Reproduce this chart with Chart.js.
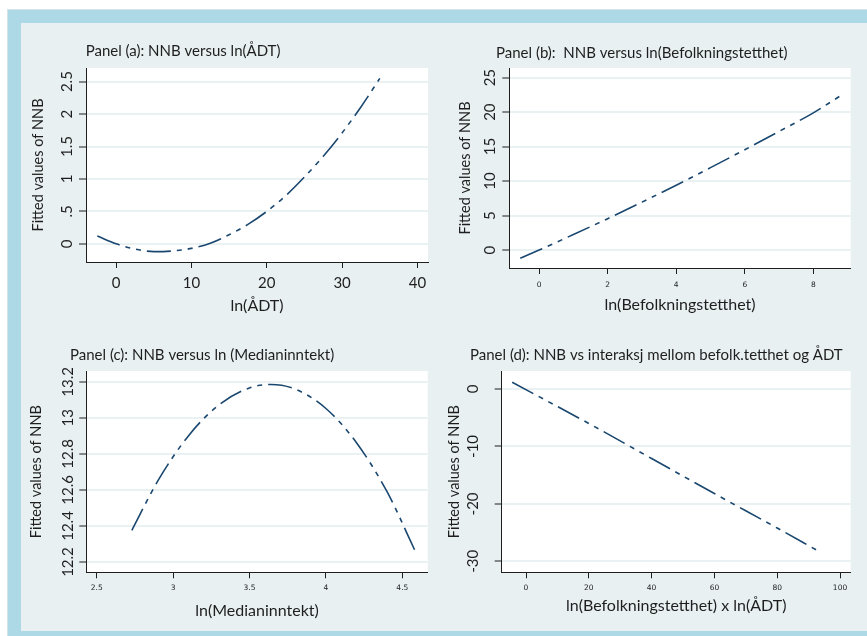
<!DOCTYPE html>
<html>
<head>
<meta charset="utf-8">
<script src="https://cdn.jsdelivr.net/npm/chart.js@4.4.1/dist/chart.umd.min.js"></script>
<style>
  body { margin: 0; background: #fff; width: 867px; height: 636px; overflow: hidden; position: relative; }
  #frame { position: absolute; left: 7px; top: 9px; width: 870px; height: 640px; background: #add8e6; border-left: 1px solid #d3e3e8; border-top: 1px solid #d3e3e8; }
  #inner { position: absolute; left: 21px; top: 23px; width: 846px; height: 608px; background: #e8f0f2; }
  canvas { position: absolute; }
</style>
</head>
<body>
<div id="frame"></div>
<div id="inner"></div>
<canvas id="pa" width="423" height="297" style="left:21px;top:23px"></canvas>
<canvas id="pb" width="423" height="297" style="left:444px;top:23px"></canvas>
<canvas id="pc" width="423" height="311" style="left:21px;top:320px"></canvas>
<canvas id="pd" width="423" height="311" style="left:444px;top:320px"></canvas>
<script>
// Panel (a): NNB versus ln(ÅDT)
const aX = [-2.5, 0, 2.5, 5, 7.5, 10, 12.5, 15, 17.5, 20, 22.5, 25, 27.5, 30, 32.5, 35];
const aY = [0.12, 0.0, -0.08, -0.12, -0.11, -0.07, 0.01, 0.14, 0.30, 0.50, 0.74, 1.03, 1.35, 1.71, 2.11, 2.55];
const aXTicks = [0, 10, 20, 30, 40];
const aXLabels = ['0', '10', '20', '30', '40'];
const aYTicks = [0, 0.5, 1, 1.5, 2, 2.5];
const aYLabels = ['0', '.5', '1', '1.5', '2', '2.5'];

// Panel (b): NNB versus ln(Befolkningstetthet)
const bX = [-0.55, 0, 1, 2, 3, 4, 5, 6, 7, 8, 8.8];
const bY = [-1.2, 0, 2.25, 4.55, 6.95, 9.4, 11.95, 14.55, 17.2, 19.9, 22.4];
const bXTicks = [0, 2, 4, 6, 8];
const bXLabels = ['0', '2', '4', '6', '8'];
const bYTicks = [0, 5, 10, 15, 20, 25];
const bYLabels = ['0', '5', '10', '15', '20', '25'];

// Panel (c): NNB versus ln (Medianinntekt)
const cX = [2.73, 2.9, 3.1, 3.3, 3.5, 3.64, 3.8, 4.0, 4.2, 4.4, 4.59];
const cY = [12.376, 12.65, 12.90, 13.072, 13.166, 13.185, 13.159, 13.052, 12.862, 12.59, 12.25];
const cXTicks = [2.5, 3, 3.5, 4, 4.5];
const cXLabels = ['2.5', '3', '3.5', '4', '4.5'];
const cYTicks = [12.2, 12.4, 12.6, 12.8, 13, 13.2];
const cYLabels = ['12.2', '12.4', '12.6', '12.8', '13', '13.2'];

// Panel (d): NNB vs interaksj mellom befolk.tetthet og ÅDT
const dX = [-4.4, 20, 40, 60, 80, 92.6];
const dY = [1.17, -6.0, -12.1, -18.2, -24.2, -28.05];
const dXTicks = [0, 20, 40, 60, 80, 100];
const dXLabels = ['0', '20', '40', '60', '80', '100'];
const dYTicks = [-30, -20, -10, 0];
const dYLabels = ['-30', '-20', '-10', '0'];

const INK = '#1e1e1e';
const LINE = '#1a476f';

const panelTitle = {
  id: 'panelTitle',
  beforeDraw(chart, args, opts) {
    const { ctx, chartArea: a } = chart;
    ctx.save();
    ctx.fillStyle = '#fff';
    ctx.fillRect(a.left, a.top, a.right - a.left, a.bottom - a.top);
    ctx.fillStyle = INK;
    ctx.font = '15px Lato';
    ctx.textBaseline = 'middle';
    ctx.textAlign = 'left';
    ctx.fillText(opts.text, opts.x, opts.y);
    ctx.restore();
  }
};

function makePanel(id, p) {
  const pts = p.xs.map((x, i) => ({ x: x, y: p.ys[i] }));
  new Chart(document.getElementById(id), {
    type: 'line',
    data: {
      datasets: [{
        data: pts,
        borderColor: LINE,
        borderWidth: 1.6,
        borderDash: [24, 6, 5, 6, 5, 6],
        pointRadius: 0,
        cubicInterpolationMode: 'monotone',
        fill: false
      }]
    },
    plugins: [panelTitle],
    options: {
      responsive: false,
      animation: false,
      devicePixelRatio: 1,
      layout: { padding: { left: 0, top: p.top, right: p.right, bottom: 0 } },
      plugins: {
        legend: { display: false },
        tooltip: { enabled: false },
        panelTitle: { text: p.title, x: p.tx, y: p.ty }
      },
      scales: {
        x: {
          type: 'linear', position: 'bottom', min: p.xMin, max: p.xMax, bounds: 'data',
          afterBuildTicks: s => { s.ticks = p.xTicks.map(v => ({ value: v })); },
          afterFit: s => { s.height = p.xAxisH; },
          ticks: { callback: (v, i) => p.xLabels[i], font: p.xTickFont, color: INK, padding: p.xTickPad, maxRotation: 0, autoSkip: false },
          grid: { drawOnChartArea: false, drawTicks: true, tickLength: 6, tickColor: INK, tickWidth: 1 },
          border: { display: true, color: INK, width: 1 },
          title: { display: true, text: p.xTitle, font: { family: 'Lato', size: 16 }, color: INK, padding: { top: 0, bottom: p.xTitlePad } }
        },
        y: {
          type: 'linear', position: 'left', min: p.yMin, max: p.yMax, bounds: 'data',
          afterBuildTicks: s => { s.ticks = p.yTicks.map(v => ({ value: v })); },
          afterFit: s => { s.width = p.yAxisW; },
          ticks: { callback: (v, i) => p.yLabels[i], font: { family: 'Lato', size: 15 }, color: INK, padding: p.yTickPad, minRotation: 90, maxRotation: 90, crossAlign: 'center', autoSkip: false },
          grid: { color: '#e9f1f3', lineWidth: 2, drawTicks: true, tickLength: 7, tickColor: INK, tickWidth: 1 },
          border: { display: true, color: INK, width: 1 },
          title: { display: true, text: 'Fitted values of NNB', font: { family: 'Lato', size: 14.5 }, color: INK, padding: { top: p.yTitlePad, bottom: 0 } }
        }
      }
    }
  });
}

const bigTick = { family: 'Lato', size: 15 };
const smallTick = { family: 'DejaVu Sans', size: 7.5 };

makePanel('pa', {
  xs: aX, ys: aY, xTicks: aXTicks, xLabels: aXLabels, yTicks: aYTicks, yLabels: aYLabels,
  xMin: -4, xMax: 41.4, yMin: -0.28, yMax: 2.71,
  title: 'Panel (a): NNB versus ln(ÅDT)', tx: 64.7, ty: 28,
  xTitle: 'ln(ÅDT)', xTickFont: bigTick,
  top: 45, right: 16, yAxisW: 65, xAxisH: 58,
  yTitlePad: 8.6, yTickPad: 1.8, xTickPad: 5.7, xTitlePad: 4.4
});
makePanel('pb', {
  xs: bX, ys: bY, xTicks: bXTicks, xLabels: bXLabels, yTicks: bYTicks, yLabels: bYLabels,
  xMin: -0.87, xMax: 9.09, yMin: -2.6, yMax: 26.4,
  title: 'Panel (b):  NNB versus ln(Befolkningstetthet)', tx: 52, ty: 30,
  xTitle: 'ln(Befolkningstetthet)', xTickFont: smallTick,
  top: 45, right: 16.3, yAxisW: 65.3, xAxisH: 52,
  yTitlePad: 12.3, yTickPad: 3.6, xTickPad: 6.5, xTitlePad: 5.4
});
makePanel('pc', {
  xs: cX, ys: cY, xTicks: cXTicks, xLabels: cXLabels, yTicks: cYTicks, yLabels: cYLabels,
  xMin: 2.432, xMax: 4.666, yMin: 12.143, yMax: 13.26,
  title: 'Panel (c): NNB versus ln (Medianinntekt)', tx: 49, ty: 35,
  xTitle: 'ln(Medianinntekt)', xTickFont: smallTick,
  top: 51, right: 16.3, yAxisW: 65.3, xAxisH: 58.7,
  yTitlePad: 7.0, yTickPad: -3.9, xTickPad: 5.5, xTitlePad: 10.4
});
makePanel('pd', {
  xs: dX, ys: dY, xTicks: dXTicks, xLabels: dXLabels, yTicks: dYTicks, yLabels: dYLabels,
  xMin: -7.74, xMax: 103.4, yMin: -31.9, yMax: 3.13,
  title: 'Panel (d): NNB vs interaksj mellom befolk.tetthet og ÅDT', tx: 26, ty: 35,
  xTitle: 'ln(Befolkningstetthet) x ln(ÅDT)', xTickFont: smallTick,
  top: 51, right: 16.3, yAxisW: 57.7, xAxisH: 58.7,
  yTitlePad: 2.0, yTickPad: 10.5, xTickPad: 5.5, xTitlePad: 15.4
});
</script>
</body>
</html>
